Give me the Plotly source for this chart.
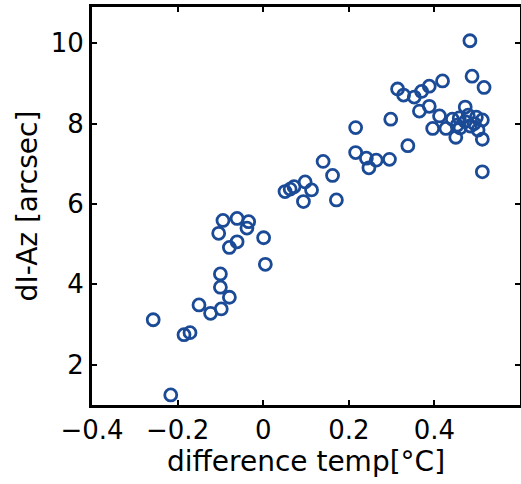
import plotly.graph_objects as go

# difference temp [°C]
temp_diff = [
    -0.257, -0.185, -0.171, -0.216, -0.150, -0.123, -0.098, -0.079, -0.100, -0.100,
    0.005, 0.001, -0.079, -0.061, -0.104, -0.094, -0.061, -0.034, -0.038,
    0.051, 0.063, 0.072, 0.098, 0.113, 0.094, 0.140, 0.162, 0.171,
    0.216, 0.216, 0.241, 0.264, 0.247, 0.295, 0.298, 0.338,
    0.314, 0.328, 0.353, 0.370, 0.388, 0.419, 0.365, 0.388, 0.412,
    0.396, 0.427, 0.450, 0.442, 0.472, 0.472, 0.498, 0.512, 0.512, 0.512,
    0.483, 0.488, 0.516, 0.460, 0.484, 0.458, 0.493, 0.453, 0.502, 0.479,
]
# dI-Az [arcsec]
di_az = [
    3.12, 2.75, 2.80, 1.25, 3.49, 3.28, 3.39, 3.68, 3.93, 4.26,
    4.50, 5.16, 4.92, 5.06, 5.27, 5.59, 5.64, 5.56, 5.40,
    6.31, 6.37, 6.43, 6.55, 6.35, 6.06, 7.06, 6.71, 6.10,
    7.90, 7.28, 7.14, 7.09, 6.90, 7.11, 8.11, 7.45,
    8.86, 8.71, 8.66, 8.80, 8.93, 9.06, 8.31, 8.43, 8.19,
    7.88, 7.88, 7.66, 8.11, 8.41, 8.05, 8.16, 8.09, 7.61, 6.80,
    10.06, 9.18, 8.90, 7.89, 7.94, 8.14, 8.00, 7.96, 7.84, 8.21,
]

x_ticks = [-0.4, -0.2, 0, 0.2, 0.4]
x_tick_text = ["\u22120.4", "\u22120.2", "0", "0.2", "0.4"]
y_ticks = [2, 4, 6, 8, 10]

font_family = "DejaVu Sans, Verdana, sans-serif"

fig = go.Figure(
    go.Scatter(
        x=temp_diff,
        y=di_az,
        mode="markers",
        marker=dict(
            symbol="circle-open",
            size=12,
            color="#1b4b96",
            line=dict(width=2.8, color="#1b4b96"),
        ),
        showlegend=False,
    )
)

axis_common = dict(
    showline=True,
    linecolor="black",
    linewidth=2.8,
    mirror="ticks",
    ticks="inside",
    ticklen=5,
    tickwidth=2,
    tickcolor="black",
    showgrid=False,
    zeroline=False,
    tickfont=dict(family=font_family, size=26, color="black"),
    automargin=False,
)

fig.update_layout(
    width=521,
    height=484,
    margin=dict(l=92, r=1, t=7, b=79),
    paper_bgcolor="white",
    plot_bgcolor="white",
    xaxis=dict(
        range=[-0.4, 0.6],
        tickvals=x_ticks,
        ticktext=x_tick_text,
        title=dict(text="difference temp[°C]",
                   font=dict(family=font_family, size=28, color="black"),
                   standoff=4),
        **axis_common,
    ),
    yaxis=dict(
        range=[1, 10.9],
        tickvals=y_ticks,
        title=dict(text="dI-Az [arcsec]",
                   font=dict(family=font_family, size=28, color="black"),
                   standoff=6),
        **axis_common,
    ),
)

fig.write_html("out.html")
